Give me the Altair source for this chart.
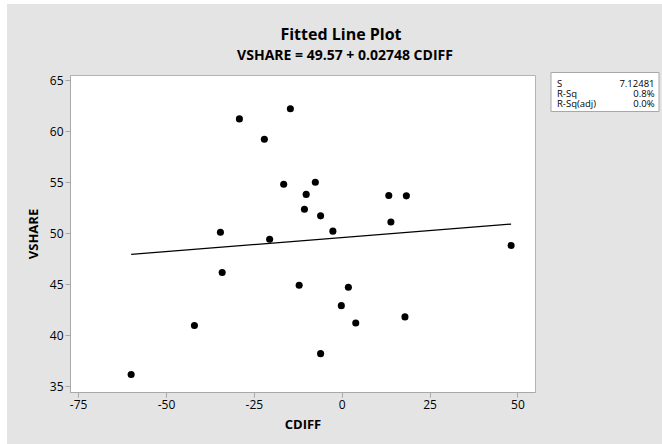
import altair as alt
import pandas as pd

# Data
cdiff = [-59.9, -41.9, -34.5, -34.0, -29.1, -22.0, -20.5, -16.5, -14.6, -12.1,
         -10.1, -10.6, -7.5, -6.0, -6.0, -2.5, -0.1, 1.9, 4.0, 13.4,
         14.0, 18.4, 18.0, 48.2]
vshare = [36.15, 40.95, 50.1, 46.15, 61.2, 59.2, 49.4, 54.8, 62.2, 44.9,
          53.8, 52.35, 55.0, 51.7, 38.2, 50.2, 42.9, 44.7, 41.2, 53.7,
          51.1, 53.66, 41.8, 48.8]
fit_x = [-59.9, 48.2]
fit_y = [47.92, 50.89]
x_ticks = [-75, -50, -25, 0, 25, 50]
y_ticks = [35, 40, 45, 50, 55, 60, 65]
stat_names = ["S", "R-Sq", "R-Sq(adj)"]
stat_values = ["7.12481", "0.8%", "0.0%"]
title_text = "Fitted Line Plot"
subtitle_text = "VSHARE = 49.57 + 0.02748 CDIFF"

FONT = "Open Sans"
W, H = 465, 317

pts = pd.DataFrame({"CDIFF": cdiff, "VSHARE": vshare})
fit = pd.DataFrame({"CDIFF": fit_x, "VSHARE": fit_y})
one = pd.DataFrame({"k": [0]})

xs = alt.Scale(domain=[-77.3, 55.0], nice=False, zero=False)
ys = alt.Scale(domain=[34.44, 65.5], nice=False, zero=False)

# thin white strips at the left and top of the grey frame
strip_left = alt.Chart(one).mark_rect(fill="white").encode(
    x=alt.value(-70), x2=alt.value(-63), y=alt.value(-75), y2=alt.value(369))
strip_top = alt.Chart(one).mark_rect(fill="white").encode(
    x=alt.value(-70), x2=alt.value(592), y=alt.value(-75), y2=alt.value(-71))

points = alt.Chart(pts).mark_circle(size=50, color="black", opacity=1).encode(
    x=alt.X("CDIFF:Q", scale=xs,
            axis=alt.Axis(title="CDIFF", values=x_ticks, titlePadding=8,
                          labelExpr="'' + datum.value")),
    y=alt.Y("VSHARE:Q", scale=ys,
            axis=alt.Axis(title="VSHARE", values=y_ticks, titlePadding=9,
                          labelExpr="'' + datum.value")),
)
line = alt.Chart(fit).mark_line(color="black", strokeWidth=1.3).encode(
    x=alt.X("CDIFF:Q", scale=xs), y=alt.Y("VSHARE:Q", scale=ys))

title_mark = alt.Chart(one).mark_text(
    text=title_text, align="center", baseline="alphabetic", font=FONT,
    fontSize=16, fontWeight="bold", color="black").encode(
    x=alt.value(271), y=alt.value(-35))
subtitle_mark = alt.Chart(one).mark_text(
    text=subtitle_text, align="center", baseline="alphabetic", font=FONT,
    fontSize=14, fontWeight="bold", color="black").encode(
    x=alt.value(275), y=alt.value(-15.5))

box = alt.Chart(one).mark_rect(fill="white", stroke="#a8a8a8", strokeWidth=1).encode(
    x=alt.value(481), x2=alt.value(589), y=alt.value(-2.5), y2=alt.value(36.5))
stat_layers = []
for i, (n, v) in enumerate(zip(stat_names, stat_values)):
    yy = 9.0 + i * 10.0
    stat_layers.append(alt.Chart(one).mark_text(
        text=n, align="left", baseline="middle", font=FONT, fontSize=9.5, color="black").encode(
        x=alt.value(487), y=alt.value(yy)))
    stat_layers.append(alt.Chart(one).mark_text(
        text=v, align="right", baseline="middle", font=FONT, fontSize=9.5, color="black").encode(
        x=alt.value(584.5), y=alt.value(yy)))

chart = alt.layer(strip_left, strip_top, line, points, title_mark, subtitle_mark,
                  box, *stat_layers).properties(
    width=W, height=H,
    autosize=alt.AutoSizeParams(type="none"),
    padding={"left": 70, "top": 75, "right": 127, "bottom": 52},
).configure(background="#e4e4e4").configure_view(
    fill="white", stroke="#b4b4b4", strokeWidth=1
).configure_axis(
    grid=False,
    domainColor="#a8a8a8", tickColor="#a8a8a8", tickSize=5, labelPadding=2,
    labelFont=FONT, labelFontSize=12, labelColor="black",
    titleFont=FONT, titleFontSize=13, titleFontWeight="bold", titleColor="black",
)

chart.save("out.html", embed_options={"renderer": "svg", "actions": False})
